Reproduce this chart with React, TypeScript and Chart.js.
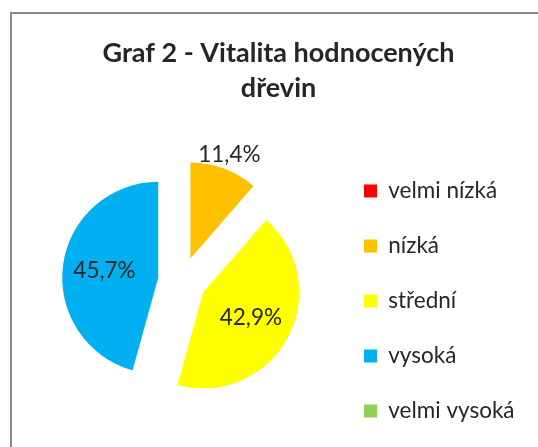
import React, { useEffect, useRef } from 'react';
import { Chart, registerables } from 'chart.js';

Chart.register(...registerables);

// ---- data ----
const categories = ['velmi nízká', 'nízká', 'střední', 'vysoká', 'velmi vysoká'];
const shares = [0, 11.4, 42.9, 45.7, 0];
const sliceColors = ['#FF0000', '#FFC000', '#FFFF00', '#00B0F0', '#92D050'];
const titleLines = ['Graf 2 - Vitalita hodnocených', 'dřevin'];

// ---- style ----
const FONT = 'Lato';
const TEXT = '#262626';
const EXPLODE = 24;
const LABEL_SIZE = 22.5;
const LEGEND_PAD = 32.5;
const BOX = 13;
const LEGEND_LEFT = 331.5;

const framePlugin = {
  id: 'frame',
  beforeDraw(chart: any) {
    const ctx = chart.ctx;
    ctx.save();
    ctx.fillStyle = '#ffffff';
    ctx.fillRect(0, 0, chart.width, chart.height);
    ctx.strokeStyle = '#8a8a8a';
    ctx.lineWidth = 2;
    ctx.strokeRect(11, 13, chart.width + 50, chart.height + 50);
    ctx.restore();
  },
};

const explodePlugin = {
  id: 'explode',
  afterDatasetsUpdate(chart: any) {
    const meta = chart.getDatasetMeta(0);
    meta.data.forEach((el: any) => {
      const mid = (el.startAngle + el.endAngle) / 2;
      el.x += Math.cos(mid) * EXPLODE;
      el.y += Math.sin(mid) * EXPLODE;
    });
  },
};

const labelPlugin = {
  id: 'sliceLabels',
  afterDatasetsDraw(chart: any) {
    const ctx = chart.ctx;
    const meta = chart.getDatasetMeta(0);
    const values = chart.data.datasets[0].data as number[];
    ctx.save();
    ctx.font = `${LABEL_SIZE}px ${FONT}`;
    ctx.fillStyle = TEXT;
    ctx.textAlign = 'center';
    ctx.textBaseline = 'middle';
    meta.data.forEach((el: any, i: number) => {
      const v = values[i];
      if (!v) return;
      const mid = (el.startAngle + el.endAngle) / 2;
      const r = el.outerRadius;
      const d = v < 20 ? r + 15 : r * 0.565;
      const text = v.toFixed(1).replace('.', ',') + '%';
      ctx.fillText(text, el.x + Math.cos(mid) * d, el.y + Math.sin(mid) * d);
    });
    ctx.restore();
  },
};

export default function App() {
  const ref = useRef<HTMLCanvasElement | null>(null);

  useEffect(() => {
    if (!ref.current) return;
    // width of the widest legend label, so the legend starts at a fixed x
    const mctx = ref.current.getContext('2d')!;
    mctx.font = `${LABEL_SIZE}px ${FONT}`;
    const tw = Math.max(...categories.map((c) => mctx.measureText(c).width));
    const legendWidth = LEGEND_PAD + BOX + LABEL_SIZE / 2 + tw + 10;
    const padRight = 538 - LEGEND_LEFT - legendWidth;
    const padLeft = 2 * 182 - LEGEND_LEFT;

    const chart = new Chart(ref.current, {
      type: 'pie',
      data: {
        labels: categories,
        datasets: [
          {
            data: shares,
            backgroundColor: sliceColors,
            borderWidth: 0,
            radius: 96,
            clip: false,
          } as any,
        ],
      },
      options: {
        responsive: false,
        animation: false,
        events: [],
        layout: { padding: { left: padLeft, right: padRight, top: 0, bottom: -12 } },
        plugins: {
          tooltip: { enabled: false },
          title: {
            display: true,
            text: titleLines,
            color: TEXT,
            font: { family: FONT, size: 27, weight: 'bold', lineHeight: 1.3 },
            padding: { top: 35.8, bottom: 9 },
          },
          legend: {
            position: 'right',
            align: 'start',
            title: {
              display: true,
              text: '',
              font: { family: FONT, size: 10, lineHeight: 1 },
              padding: { top: 137.25, bottom: 0 },
            },
            labels: {
              boxWidth: BOX,
              boxHeight: BOX,
              padding: LEGEND_PAD,
              color: TEXT,
              font: { family: FONT, size: LABEL_SIZE },
            },
          },
        },
      } as any,
      plugins: [framePlugin, explodePlugin, labelPlugin],
    });
    return () => chart.destroy();
  }, []);

  return (
    <div style={{ position: 'absolute', left: 0, top: 0, width: 538, height: 447 }}>
      <canvas ref={ref} width={538} height={447} style={{ display: 'block' }} />
    </div>
  );
}
